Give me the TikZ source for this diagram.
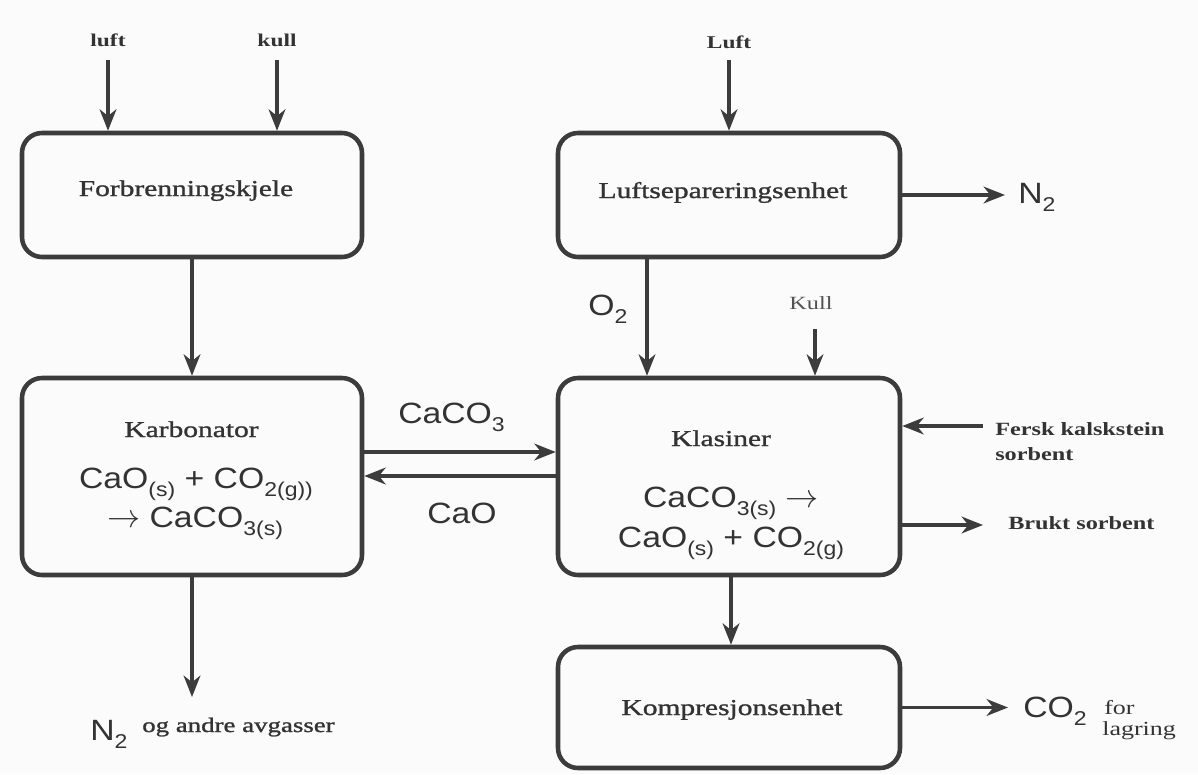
\documentclass[tikz,border=0pt]{standalone}
\usepackage{fontspec}
\setmainfont{Liberation Serif}[FakeStretch=1.3]
\newfontfamily\semib{Liberation Serif}[FakeStretch=1.3,FakeBold=1.2]
\newfontfamily\chemfont{Liberation Sans}[FakeStretch=1.15]
\usetikzlibrary{arrows.meta}
\definecolor{lc}{HTML}{3C3C3C}
\definecolor{tc}{HTML}{333333}
\definecolor{bg}{HTML}{FBFBFB}
\newcommand\chsub[1]{\raisebox{-0.3em}{\fontsize{15}{15}\selectfont #1}}
\newcommand\bigarr{{\fontsize{27}{27}\selectfont$\rightarrow$}}
\begin{document}
\begin{tikzpicture}[x=0.75pt,y=-0.75pt,
  box/.style={draw=lc, line width=3.4pt, rounded corners=15pt},
  arr/.style={draw=lc, line width=2.8pt, -{Stealth[length=16pt,width=12.5pt,inset=5pt]}},
  lab/.style={inner sep=0, text=tc, font=\semib\fontsize{17}{20}\selectfont},
  small/.style={inner sep=0, text=tc, font=\fontsize{13.5}{16}\selectfont\bfseries},
  side/.style={inner sep=0, text=tc, font=\fontsize{14}{16}\selectfont\bfseries},
  chem/.style={inner sep=0, text=tc, font=\chemfont\fontsize{22}{26}\selectfont}]
\fill[bg] (0,0) rectangle (1198,774);
\useasboundingbox (0,0) rectangle (1198,774);
% boxes
\node[box, minimum width=255pt, minimum height=93pt] (FK) at (192,195) {};
\node[box, minimum width=256.5pt, minimum height=93pt] (LS) at (729,195) {};
\node[box, minimum width=255pt, minimum height=147.75pt] (KB) at (192,476.5) {};
\node[box, minimum width=256.5pt, minimum height=147.75pt] (KL) at (729,476.5) {};
\node[box, minimum width=256.5pt, minimum height=90.75pt] (KO) at (729,707.5) {};
% box texts
\node[lab, anchor=base] (tFK) at (186,196) {Forbrenningskjele};
\node[lab, anchor=base] (tLS) at (723,198) {Luftsepareringsenhet};
\node[lab, anchor=base] (tKB) at (191.5,437) {Karbonator};
\node[lab, anchor=base] (tKL) at (721,446) {Klasiner};
\node[lab, anchor=base] (tKO) at (732,715) {Kompresjonsenhet};
% formulas
\node[chem, anchor=base] (fKB1) at (196,488) {CaO\chsub{(s)} + CO\chsub{2(g))}};
\node[chem, anchor=base] (fKB2) at (195,527) {\bigarr{} CaCO\chsub{3(s)}};
\node[chem, anchor=base] (fKL1) at (731,507) {CaCO\chsub{3(s)} \bigarr};
\node[chem, anchor=base] (fKL2) at (731,547) {CaO\chsub{(s)} + CO\chsub{2(g)}};
% top inputs
\node[small, anchor=base] (luft) at (108,47) {luft};
\node[small, anchor=base] (kull) at (277,47) {kull};
\node[small, anchor=base] (Luft) at (729,49) {Luft};
\coordinate (cluft) at (108,60);
\coordinate (ckull) at (277,60);
\coordinate (cLuft) at (729,60);
\draw[arr] (cluft) -- (cluft |- FK.north);
\draw[arr] (ckull) -- (ckull |- FK.north);
\draw[arr] (cLuft) -- (cLuft |- LS.north);
% vertical flows
\draw[arr] (FK.south) -- (KB.north);
\coordinate (o2x) at (647,300);
\draw[arr] (LS.south -| o2x) -- (KL.north -| o2x);
\node[chem, anchor=base west] (O2) at (588,315) {O\chsub{2}};
\node[inner sep=0, text=tc!85, font=\fontsize{14}{16}\selectfont, anchor=base] (Kull) at (811,309) {Kull};
\coordinate (cKull) at (815,329);
\draw[arr] (cKull) -- (cKull |- KL.north);
% N2 out
\coordinate (n2e) at (1005,195);
\draw[arr] (LS.east) -- (n2e);
\node[chem, anchor=base west] (N2a) at (1018,203) {N\chsub{2}};
% exchange
\coordinate (ya) at (0,452);
\coordinate (yb) at (0,476);
\draw[arr] (KB.east |- ya) -- (KL.west |- ya);
\draw[arr] (KL.west |- yb) -- (KB.east |- yb);
\node[chem, anchor=base west] (lCaCO) at (398,423) {CaCO\chsub{3}};
\node[chem, anchor=base west] (lCaO) at (427,523) {CaO};
% sorbent
\coordinate (fks) at (983,426);
\draw[arr] (fks) -- (fks -| KL.east);
\node[side, anchor=base west] (fk1) at (995,435) {Fersk kalskstein};
\node[side, anchor=base west] (fk2) at (995,460) {sorbent};
\coordinate (bse) at (983,525);
\draw[arr] (bse -| KL.east) -- (bse);
\node[side, anchor=base west] (bs) at (1008,529) {Brukt sorbent};
% to compression
\coordinate (kx) at (731,600);
\draw[arr] (KL.south -| kx) -- (KO.north -| kx);
% karbonator out
\coordinate (kbo) at (192,697);
\draw[arr] (KB.south) -- (kbo);
\node[chem, anchor=base west] (N2b) at (90,740) {N\chsub{2}};
\node[inner sep=0, text=tc, font=\semib\fontsize{15.5}{18}\selectfont, anchor=base west] (oa) at (142,732) {og andre avgasser};
% CO2 out
\coordinate (coe) at (1008,707.5);
\draw[arr] (KO.east) -- (coe);
\node[chem, anchor=base west] (CO2) at (1023,717) {CO\chsub{2}};
\node[inner sep=0, text=tc, font=\fontsize{15}{18}\selectfont, anchor=base west] (for) at (1104,714) {for};
\node[inner sep=0, text=tc, font=\fontsize{15}{18}\selectfont, anchor=base west] (lag) at (1102,735) {lagring};
\end{tikzpicture}
\end{document}
